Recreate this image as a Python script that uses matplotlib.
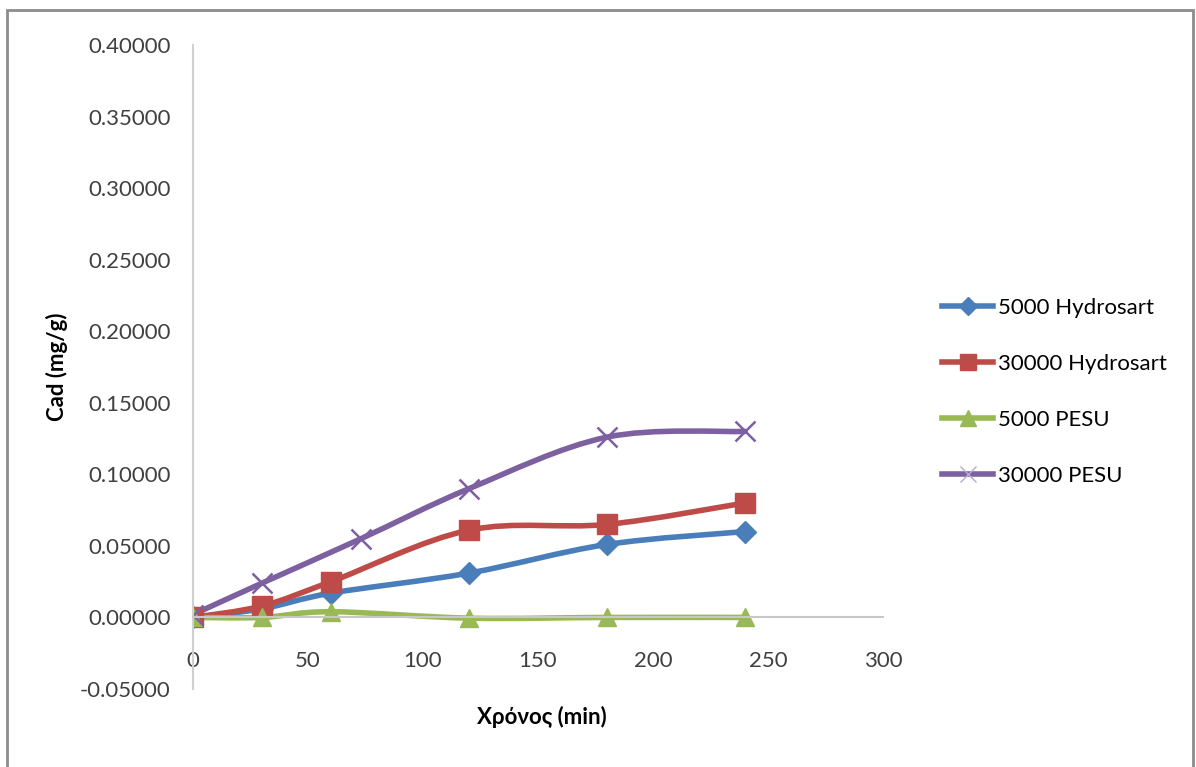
import numpy as np
import matplotlib.pyplot as plt
from matplotlib.path import Path
from matplotlib.patches import PathPatch, Rectangle
from matplotlib.lines import Line2D

plt.rcParams['font.family'] = ['Lato', 'DejaVu Sans']

# data
time_min = [0, 30, 60, 120, 180, 240]
time_pesu30 = [0, 30, 73, 120, 180, 240]
hydro_5000 = [0.0, 0.006, 0.017, 0.031, 0.051, 0.060]
hydro_30000 = [0.0, 0.008, 0.025, 0.061, 0.065, 0.080]
pesu_5000 = [0.0, 0.0, 0.004, -0.0005, 0.0, 0.0]
pesu_30000 = [0.002, 0.024, 0.055, 0.090, 0.126, 0.130]

labels = ['5000 Hydrosart', '30000 Hydrosart', '5000 PESU', '30000 PESU']
colors = ['#4A7EBB', '#BE4B48', '#98B954', '#7D60A0']
markers = ['D', 's', '^', 'x']
msizes = [11, 14, 13, 14]

y_ticks = np.arange(-0.05, 0.4001, 0.05)
x_ticks = np.arange(0, 301, 50)


def smooth_path(x, y):
    # excel-like smoothed line: cubic bezier through every point
    x = np.asarray(x, float)
    y = np.asarray(y, float)
    px = np.concatenate([[x[0]], x, [x[-1]]])
    py = np.concatenate([[y[0]], y, [y[-1]]])
    verts = [(x[0], y[0])]
    codes = [Path.MOVETO]
    for i in range(1, len(x)):
        c1 = (px[i] + (px[i + 1] - px[i - 1]) / 6, py[i] + (py[i + 1] - py[i - 1]) / 6)
        c2 = (px[i + 1] - (px[i + 2] - px[i]) / 6, py[i + 1] - (py[i + 2] - py[i]) / 6)
        verts += [c1, c2, (px[i + 1], py[i + 1])]
        codes += [Path.CURVE4] * 3
    return Path(verts, codes)


fig = plt.figure(figsize=(11.96, 7.67), dpi=100)
fig.patches.append(Rectangle((7 / 1196, -0.01), 1186 / 1196, 1 - 10 / 767 + 0.01,
                             transform=fig.transFigure, fill=False,
                             edgecolor='#8C8C8C', lw=2))
ax = fig.add_axes([193 / 1196, 78 / 767, 690 / 1196, 644 / 767])

series = [(time_min, hydro_5000), (time_min, hydro_30000),
          (time_min, pesu_5000), (time_pesu30, pesu_30000)]
handles = []
for (xs, ys), c, m, ms, lab in zip(series, colors, markers, msizes, labels):
    ax.add_patch(PathPatch(smooth_path(xs, ys), facecolor='none', edgecolor=c,
                           lw=4, capstyle='round', joinstyle='round'))
    mew = 1.8 if m == 'x' else 1
    ax.plot(xs, ys, linestyle='none', marker=m, markersize=ms, color=c,
            markeredgecolor=c, markeredgewidth=mew)
    handles.append(Line2D([], [], color=c, lw=4, marker=m, markersize=ms * 0.85,
                          markeredgewidth=1,
                          markeredgecolor=c if m != 'x' else '#B9A8D0'))

ax.set_xlim(0, 300)
ax.set_ylim(-0.05, 0.40)
ax.set_xticks(x_ticks)
ax.set_yticks(y_ticks)
ax.set_yticklabels([f'{v:.5f}' for v in y_ticks])
ax.spines['top'].set_visible(False)
ax.spines['right'].set_visible(False)
ax.spines['left'].set_color('#D0D0D0')
ax.spines['bottom'].set_color('#C8C8C8')
ax.spines['left'].set_linewidth(1.5)
ax.spines['bottom'].set_linewidth(1.5)
ax.spines['bottom'].set_position(('data', 0))
ax.tick_params(axis='x', length=0, pad=24, labelsize=16, colors='#404040')
ax.tick_params(axis='y', length=0, pad=16, labelsize=16, colors='#404040')
ax.set_ylabel('Cad (mg/g)', fontsize=16, fontweight='bold', labelpad=9)
ax.set_xlabel('Χρόνος (min)', fontsize=16, fontweight='bold')
ax.xaxis.set_label_coords(0.505, -0.026)

fig.legend(handles, labels, loc='upper left', bbox_to_anchor=(942 / 1196, 1 - 298 / 767),
           frameon=False, fontsize=16, handlelength=2.3, handletextpad=0.2,
           labelspacing=1.62, borderpad=0, borderaxespad=0)

fig.savefig('out.png', dpi=100)
